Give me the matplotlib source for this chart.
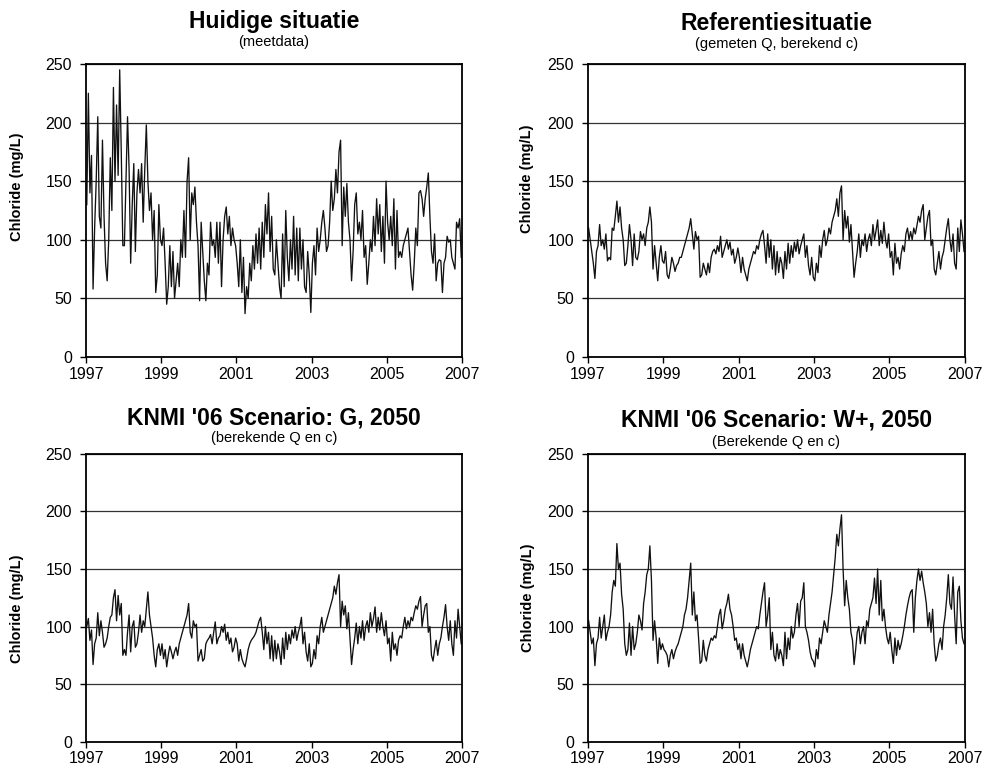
import matplotlib
matplotlib.use("Agg")
import matplotlib.pyplot as plt
import numpy as np

plt.rcParams['font.family'] = ['Liberation Sans', 'DejaVu Sans']

START_YEAR = 1997
PER_YEAR = 24  # halve-maandelijkse waarden

# Huidige situatie (meetdata), een rij per jaar 1997..2006
huidig = [
    130, 225, 140, 172, 58, 110, 150, 205, 120, 110, 185, 120, 80, 65, 100, 170, 125, 230, 150, 215, 155, 245, 175, 95,
    95, 150, 205, 160, 80, 130, 165, 90, 140, 160, 140, 165, 115, 160, 198, 150, 125, 140, 100, 125, 55, 70, 130, 100,
    95, 110, 80, 45, 60, 95, 60, 90, 50, 65, 80, 60, 100, 85, 125, 85, 150, 170, 100, 140, 130, 145, 115, 95,
    48, 115, 90, 65, 48, 80, 70, 115, 95, 100, 85, 115, 80, 115, 60, 100, 120, 128, 105, 120, 95, 110, 100, 95,
    80, 60, 100, 55, 85, 37, 60, 50, 80, 65, 95, 75, 105, 80, 110, 75, 115, 85, 130, 105, 140, 90, 120, 75,
    70, 100, 80, 60, 50, 105, 60, 125, 85, 65, 100, 75, 120, 70, 110, 65, 110, 75, 100, 60, 55, 90, 70, 38,
    80, 95, 70, 110, 90, 100, 115, 125, 110, 90, 95, 115, 150, 125, 135, 160, 140, 175, 185, 95, 145, 120, 148, 115,
    100, 65, 90, 130, 140, 105, 115, 100, 125, 85, 95, 62, 80, 100, 90, 120, 95, 135, 105, 130, 90, 120, 80, 150,
    115, 100, 120, 95, 135, 75, 125, 85, 90, 85, 95, 100, 105, 110, 90, 70, 57, 80, 110, 95, 140, 142, 135, 120,
    135, 145, 157, 120, 90, 80, 105, 65, 80, 83, 82, 55, 80, 85, 103, 98, 100, 85, 80, 75, 115, 110, 118, 85,
]

# Referentiesituatie (gemeten Q, berekend c)
referentie = [
    110, 100, 90, 80, 67, 90, 95, 113, 95, 100, 92, 105, 82, 85, 83, 110, 108, 120, 133, 115, 128, 110, 100, 78,
    80, 95, 113, 100, 78, 105, 85, 83, 90, 107, 100, 105, 95, 110, 115, 128, 115, 75, 95, 80, 65, 85, 95, 82,
    80, 90, 70, 67, 75, 85, 80, 73, 78, 80, 85, 85, 90, 95, 100, 105, 110, 118, 105, 92, 107, 100, 103, 68,
    70, 80, 75, 70, 80, 72, 85, 90, 92, 88, 95, 90, 103, 85, 90, 95, 100, 92, 98, 87, 92, 80, 85, 93,
    85, 72, 85, 75, 70, 65, 75, 80, 85, 90, 88, 95, 92, 100, 105, 108, 95, 80, 105, 85, 100, 75, 95, 70,
    90, 72, 85, 80, 67, 90, 75, 97, 80, 95, 85, 98, 90, 100, 88, 95, 100, 105, 85, 95, 78, 70, 85, 68,
    65, 80, 72, 95, 85, 100, 108, 95, 100, 110, 105, 115, 120, 125, 135, 120, 140, 146, 100, 125, 110, 120, 98, 113,
    90, 68, 80, 90, 105, 85, 100, 95, 105, 90, 100, 105, 95, 113, 100, 108, 117, 95, 108, 97, 115, 100, 93, 105,
    85, 90, 70, 97, 80, 85, 75, 88, 95, 90, 105, 110, 100, 107, 100, 110, 105, 112, 120, 115, 125, 130, 100, 110,
    120, 125, 95, 100, 75, 70, 80, 90, 75, 85, 90, 100, 110, 118, 100, 90, 105, 80, 75, 110, 90, 117, 105, 90,
]

# KNMI '06 scenario G, 2050
scenario_g = [
    100, 107, 88, 97, 67, 85, 90, 112, 92, 105, 95, 82, 85, 90, 100, 108, 110, 125, 132, 105, 127, 110, 120, 75,
    80, 75, 95, 110, 78, 100, 105, 82, 85, 95, 110, 95, 105, 100, 115, 130, 110, 100, 90, 75, 65, 80, 85, 75,
    85, 72, 80, 65, 75, 83, 78, 72, 78, 82, 75, 85, 90, 95, 100, 105, 110, 120, 95, 90, 105, 100, 102, 70,
    75, 80, 70, 72, 85, 88, 90, 93, 85, 95, 104, 85, 90, 92, 100, 95, 102, 88, 95, 85, 90, 78, 82, 90,
    85, 70, 80, 72, 68, 65, 72, 80, 85, 88, 90, 92, 95, 100, 105, 108, 95, 80, 100, 85, 95, 72, 92, 70,
    88, 72, 85, 78, 67, 90, 72, 95, 80, 93, 85, 97, 90, 100, 88, 95, 100, 108, 85, 95, 78, 70, 85, 65,
    68, 80, 72, 92, 85, 100, 108, 95, 100, 105, 110, 115, 120, 125, 135, 128, 138, 145, 100, 122, 110, 118, 98, 112,
    90, 67, 80, 90, 103, 85, 100, 90, 105, 88, 100, 105, 95, 112, 100, 107, 117, 95, 108, 97, 112, 100, 92, 105,
    85, 90, 70, 95, 80, 85, 75, 88, 92, 90, 100, 108, 98, 105, 100, 108, 105, 112, 118, 115, 122, 126, 100, 110,
    118, 120, 95, 100, 75, 70, 80, 88, 75, 85, 90, 100, 108, 119, 100, 88, 105, 85, 75, 105, 90, 115, 100, 85,
]

# KNMI '06 scenario W+, 2050
scenario_wplus = [
    105, 95, 85, 90, 66, 85, 90, 108, 90, 100, 110, 88, 95, 100, 110, 130, 140, 135, 172, 150, 155, 128, 115, 85,
    75, 80, 103, 75, 100, 80, 85, 95, 110, 105, 97, 120, 130, 145, 150, 170, 140, 88, 105, 90, 68, 90, 80, 85,
    80, 78, 75, 65, 75, 80, 72, 78, 82, 85, 90, 95, 100, 110, 115, 125, 140, 155, 110, 130, 105, 110, 90, 68,
    70, 88, 75, 70, 80, 85, 90, 88, 92, 90, 100, 110, 115, 98, 105, 115, 120, 128, 115, 110, 100, 88, 90, 80,
    85, 72, 85, 75, 70, 65, 72, 80, 85, 90, 95, 100, 98, 110, 120, 130, 138, 100, 110, 125, 80, 95, 75, 70,
    85, 72, 80, 75, 66, 95, 72, 90, 80, 100, 90, 95, 110, 120, 100, 122, 125, 138, 100, 95, 88, 78, 72, 70,
    65, 80, 72, 90, 85, 95, 105, 100, 95, 110, 120, 130, 145, 160, 180, 170, 185, 197, 150, 118, 140, 125, 115, 95,
    88, 67, 80, 95, 100, 85, 95, 100, 85, 105, 100, 115, 120, 125, 142, 120, 150, 110, 140, 105, 115, 100, 90, 85,
    95, 80, 68, 90, 75, 88, 80, 85, 92, 100, 110, 118, 125, 130, 132, 95, 125, 140, 150, 140, 148, 138, 130, 120,
    100, 112, 95, 115, 85, 70, 75, 85, 90, 80, 100, 110, 125, 145, 120, 115, 143, 110, 85, 130, 135, 105, 90, 85,
]

titles = ["Huidige situatie", "Referentiesituatie",
          "KNMI '06 Scenario: G, 2050", "KNMI '06 Scenario: W+, 2050"]
subtitles = ["(meetdata)", "(gemeten Q, berekend c)",
             "(berekende Q en c)", "(Berekende Q en c)"]
series = [huidig, referentie, scenario_g, scenario_wplus]
year_ticks = [1997, 1999, 2001, 2003, 2005, 2007]
y_ticks = [0, 50, 100, 150, 200, 250]

fig = plt.figure(figsize=(9.83, 7.71), dpi=100)

# posities in figuurcoordinaten (links, onder, breedte, hoogte)
boxes = [
    [0.0875, 0.537, 0.3825, 0.380],
    [0.598, 0.537, 0.3835, 0.380],
    [0.0875, 0.038, 0.3825, 0.3735],
    [0.598, 0.038, 0.3835, 0.3735],
]
title_y = [(0.9715, 0.9455), (0.970, 0.943), (0.458, 0.432), (0.455, 0.427)]
label_xy = [(-0.165, 0.58), (-0.143, 0.61), (-0.165, 0.46), (-0.141, 0.50)]

for i, vals in enumerate(series):
    ax = fig.add_axes(boxes[i])
    vals = np.array(vals, dtype=float)
    t = START_YEAR + (np.arange(len(vals)) + 0.5) / PER_YEAR
    ax.plot(t, vals, color='#111111', linewidth=0.95)

    ax.set_xlim(1997, 2007)
    ax.set_ylim(0, 250)
    ax.set_xticks(year_ticks)
    ax.set_yticks(y_ticks)
    ax.yaxis.grid(True, color='#333333', linewidth=0.9)
    ax.set_axisbelow(True)
    ax.tick_params(direction='out', length=4, width=1, labelsize=11.5)
    ax.tick_params(axis='y', pad=6)
    ax.tick_params(axis='x', pad=3)
    for sp in ax.spines.values():
        sp.set_linewidth(1.3)
        sp.set_color('black')

    ax.set_ylabel("Chloride (mg/L)", fontsize=10.5, fontweight='bold')
    ax.yaxis.set_label_coords(*label_xy[i])

    cx = boxes[i][0] + boxes[i][2] / 2
    fig.text(cx, title_y[i][0], titles[i], ha='center', va='center',
             fontsize=16.5, fontweight='bold')
    fig.text(cx, title_y[i][1], subtitles[i], ha='center', va='center',
             fontsize=10.5)

fig.savefig("out.png", dpi=100)
